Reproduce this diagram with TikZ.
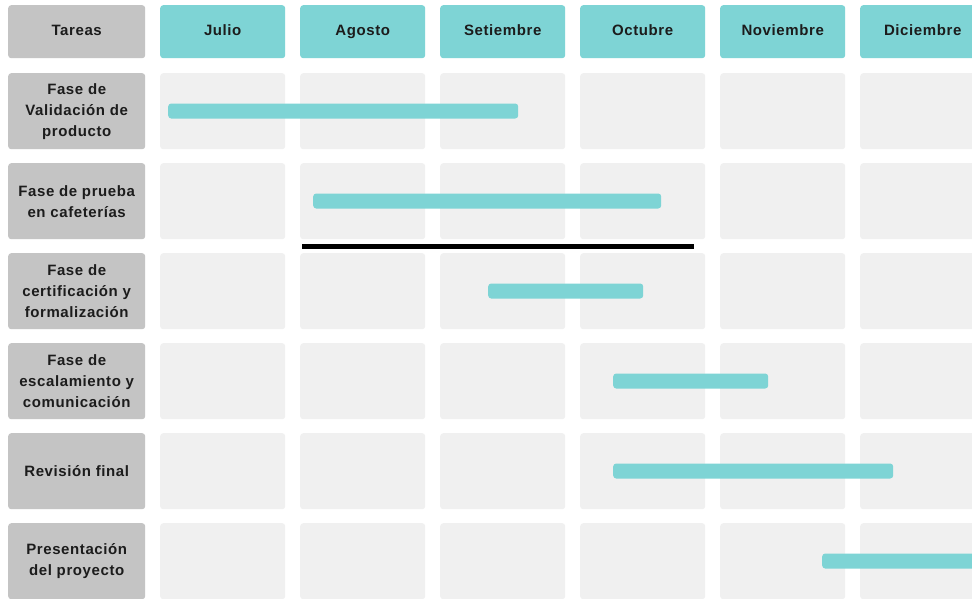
\documentclass[tikz,border=0pt]{standalone}
\usepackage{fontspec}
\setmainfont{Liberation Sans}[LetterSpace=4]
\definecolor{tealbar}{HTML}{7ED4D5}
\definecolor{taskgray}{HTML}{C4C4C4}
\definecolor{cellgray}{HTML}{F0F0F0}
\definecolor{ink}{HTML}{1C1C1C}
\begin{document}
\begin{tikzpicture}[x=1pt,y=-1pt,
  box/.style={inner sep=0pt, rounded corners=3pt, anchor=north west},
  cell/.style={box, fill=cellgray, minimum width=125pt, minimum height=76pt},
  month/.style={box, fill=tealbar, minimum width=125pt, minimum height=53pt,
    text height=11pt, text depth=3.5pt,
    font=\fontsize{15}{21}\selectfont\bfseries, text=ink},
  task/.style={box, fill=taskgray, minimum width=137pt, minimum height=76pt,
    align=center, font=\fontsize{15}{21}\selectfont\bfseries, text=ink},
  head/.style={task, minimum height=53pt, text height=11pt, text depth=3.5pt},
  bar/.style={inner sep=0pt, rounded corners=3pt, fill=tealbar,
    minimum height=15pt, anchor=west},
  cut/.style={draw=black, line width=4.5pt}]
\useasboundingbox (0,0) rectangle (972,598);
\clip (0,0) rectangle (972,598);
\fill[white] (0,0) rectangle (972,598);

% header row
\node[head] (h0) at (8,5) {Tareas};
\foreach \m [count=\i from 0] in {Julio,Agosto,Setiembre,Octubre,Noviembre,Diciembre}
  \node[month] (h\i m) at (160+140*\i,5) {\m};

% task labels
\node[task] (t1) at (8,73)  {Fase de\\Validación de\\producto};
\node[task] (t2) at (8,163) {Fase de prueba\\en cafeterías};
\node[task] (t3) at (8,253) {Fase de\\certificación y\\formalización};
\node[task] (t4) at (8,343) {Fase de\\escalamiento y\\comunicación};
\node[task] (t5) at (8,433) {Revisión final};
\node[task] (t6) at (8,523) {Presentación\\del proyecto};

% empty grid cells
\foreach \r in {0,...,5}
  \foreach \c in {0,...,5}
    \node[cell] (c\r-\c) at (160+140*\c,73+90*\r) {};

% duration bars
\node[bar, minimum width=350pt] (b1) at (168,111) {};
\node[bar, minimum width=348pt] (b2) at (313,201) {};
\node[bar, minimum width=155pt] (b3) at (488,291) {};
\node[bar, minimum width=155pt] (b4) at (613,381) {};
\node[bar, minimum width=280pt] (b5) at (613,471) {};
\node[bar, minimum width=170pt] (b6) at (822,561) {};

% separator line
\coordinate (sepL) at (302,246.5);
\coordinate (sepR) at (694,246.5);
\draw[cut] (sepL) -- (sepR);
\end{tikzpicture}
\end{document}
